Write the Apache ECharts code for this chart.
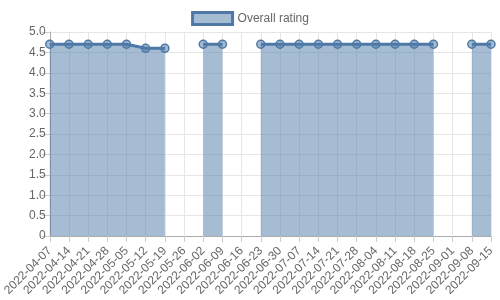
<!DOCTYPE html>
<html><head><meta charset="utf-8">
<script src="https://cdn.jsdelivr.net/npm/echarts@6/dist/echarts.min.js"></script>
<style>html,body{margin:0;padding:0;background:#fff}#c{width:500px;height:300px}</style>
</head><body><div id="c"></div>
<script>
const categories = ['2022-04-07','2022-04-14','2022-04-21','2022-04-28','2022-05-05','2022-05-12','2022-05-19','2022-05-26','2022-06-02','2022-06-09','2022-06-16','2022-06-23','2022-06-30','2022-07-07','2022-07-14','2022-07-21','2022-07-28','2022-08-04','2022-08-11','2022-08-18','2022-08-25','2022-09-01','2022-09-08','2022-09-15'];
const overallRating = [4.7,4.7,4.7,4.7,4.7,4.6,4.6,null,4.7,4.7,null,4.7,4.7,4.7,4.7,4.7,4.7,4.7,4.7,4.7,4.7,null,4.7,4.7];
const seriesName = 'Overall rating';

const font = "'Liberation Sans', Arial, sans-serif";
const chart = echarts.init(document.getElementById('c'), null, {renderer:'canvas'});
chart.setOption({
  animation:false,
  textStyle:{fontFamily:font},
  legend:{
    top:6, left:'center',
    itemWidth:40, itemHeight:12, itemGap:6,
    icon:'rect',
    textStyle:{color:'#666', fontSize:12, fontFamily:font},
    itemStyle:{color:'rgba(78,121,167,0.5)', borderColor:'#4e79a7', borderWidth:3},
    data:[seriesName]
  },
  grid:{left:49, right:9, top:32, bottom:64},
  xAxis:{
    type:'category', data:categories, boundaryGap:false,
    axisLine:{lineStyle:{color:'#aaa'}},
    axisTick:{show:true, length:6, lineStyle:{color:'#ccc'}},
    axisLabel:{rotate:45, color:'#666', fontSize:12, fontFamily:font, interval:0, margin:13},
    splitLine:{show:true, lineStyle:{color:'#e6e6e6'}}
  },
  yAxis:{
    type:'value', min:0, max:5, interval:0.5,
    axisLine:{show:true, lineStyle:{color:'#aaa'}},
    axisTick:{show:true, length:8, lineStyle:{color:'#ccc'}},
    axisLabel:{color:'#666', fontSize:12, fontFamily:font, margin:4,
      formatter:v => v===0 ? '0' : v.toFixed(1)},
    splitLine:{show:true, lineStyle:{color:'#e6e6e6'}}
  },
  series:[{
    name:seriesName, type:'line', data:overallRating, connectNulls:false,
    symbol:'circle', symbolSize:8, showAllSymbol:true,
    lineStyle:{color:'#4e79a7', width:3},
    itemStyle:{color:'rgba(78,121,167,0.5)', borderColor:'#4e79a7', borderWidth:1.5},
    areaStyle:{color:'rgba(78,121,167,0.5)', opacity:1}
  }]
});
</script></body></html>
